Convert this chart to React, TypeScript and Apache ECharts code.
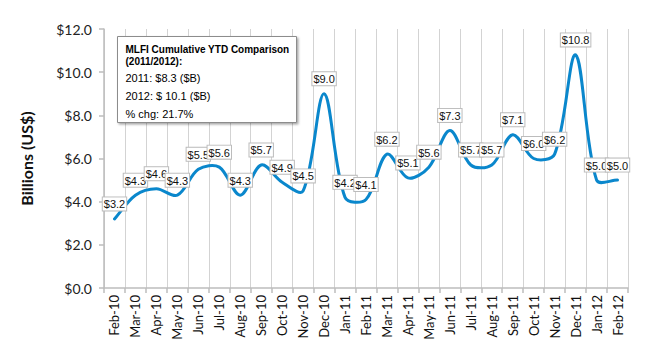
import React, { useEffect, useRef } from "react";
import * as echarts from "echarts";

const categories = [
  "Feb-10", "Mar-10", "Apr-10", "May-10", "Jun-10", "Jul-10", "Aug-10", "Sep-10", "Oct-10",
  "Nov-10", "Dec-10", "Jan-11", "Feb-11", "Mar-11", "Apr-11", "May-11", "Jun-11", "Jul-11",
  "Aug-11", "Sep-11", "Oct-11", "Nov-11", "Dec-11", "Jan-12", "Feb-12",
];
const values = [
  3.2, 4.3, 4.6, 4.3, 5.5, 5.6, 4.3, 5.7, 4.9, 4.5, 9.0, 4.2, 4.1, 6.2, 5.1, 5.6, 7.3, 5.7,
  5.7, 7.1, 6.0, 6.2, 10.8, 5.0, 5.0,
];
const yTicks = [0, 2, 4, 6, 8, 10, 12];
const boxTitle = ["MLFI Cumulative YTD Comparison", "(2011/2012):"];
const boxLines = ["2011: $8.3 ($B)", "2012: $ 10.1 ($B)", "% chg: 21.7%"];

// Excel-like smoothing: control points along neighbour chord, split by segment length
function smoothPath(pts: number[][], s: number): string {
  const n = pts.length;
  let d = `M${pts[0][0]},${pts[0][1]}`;
  const cps: number[][][] = [];
  for (let i = 0; i < n; i++) {
    const p = pts[i];
    const prev = pts[Math.max(0, i - 1)];
    const next = pts[Math.min(n - 1, i + 1)];
    const vx = next[0] - prev[0];
    const vy = next[1] - prev[1];
    const dPrev = Math.hypot(p[0] - prev[0], p[1] - prev[1]);
    const dNext = Math.hypot(next[0] - p[0], next[1] - p[1]);
    const tot = dPrev + dNext || 1;
    const rIn = dPrev / tot;
    const rOut = dNext / tot;
    cps.push([
      [p[0] - vx * s * rIn, p[1] - vy * s * rIn],
      [p[0] + vx * s * rOut, p[1] + vy * s * rOut],
    ]);
  }
  for (let i = 0; i < n - 1; i++) {
    const c1 = cps[i][1];
    const c2 = cps[i + 1][0];
    const p = pts[i + 1];
    d += ` C${c1[0]},${c1[1]} ${c2[0]},${c2[1]} ${p[0]},${p[1]}`;
  }
  return d;
}

export default function App() {
  const ref = useRef<HTMLDivElement>(null);
  useEffect(() => {
    if (!ref.current) return;
    const chart = echarts.init(ref.current, null, { renderer: "svg" });
    const axisFont = "Lato, 'Open Sans', sans-serif";
    const boxFont = "'Liberation Sans', Arial, sans-serif";
    const pairData = values.map((v, i) => [i, v]);
    chart.setOption({
      animation: false,
      backgroundColor: "#ffffff",
      grid: { left: 104, right: 22, top: 29, bottom: 62, containLabel: false },
      xAxis: {
        type: "category",
        data: categories,
        boundaryGap: true,
        axisLine: { show: true, lineStyle: { color: "#bdbdbd", width: 1.5 } },
        axisTick: { show: true, alignWithLabel: false, length: 5, lineStyle: { color: "#bdbdbd", width: 1.5 } },
        splitLine: { show: true, lineStyle: { color: "#d3d3d3", width: 1 } },
        axisLabel: {
          rotate: 90,
          interval: 0,
          margin: 7,
          color: "#111",
          fontSize: 13,
          fontFamily: axisFont,
        },
      },
      yAxis: {
        type: "value",
        min: 0,
        max: 12,
        interval: 2,
        name: "Billions (US$)",
        nameLocation: "middle",
        nameGap: 70,
        nameTextStyle: { fontSize: 16, fontWeight: "bold", color: "#111", fontFamily: axisFont },
        axisLine: { show: true, lineStyle: { color: "#bdbdbd", width: 1.5 } },
        axisTick: { show: true, length: 5, lineStyle: { color: "#bdbdbd", width: 1.5 } },
        splitLine: { show: false },
        axisLabel: {
          margin: 12,
          color: "#222",
          fontSize: 14,
          fontFamily: axisFont,
          formatter: (v: number) => (yTicks.includes(v) ? "$" + v.toFixed(1) : ""),
        },
      },
      series: [
        {
          type: "custom",
          z: 2,
          data: pairData,
          encode: { x: 0, y: 1 },
          renderItem: (params: any, api: any) => {
            if (params.dataIndex !== 0) return null;
            const pts = values.map((v, i) => api.coord([i, v]));
            return {
              type: "path",
              shape: { pathData: smoothPath(pts, 1 / 3) },
              style: { fill: "none", stroke: "#0a87cc", lineWidth: 3, lineCap: "round", lineJoin: "round" },
            };
          },
        },
        {
          type: "line",
          z: 5,
          data: values,
          symbol: "circle",
          symbolSize: 1,
          itemStyle: { color: "rgba(0,0,0,0)" },
          lineStyle: { opacity: 0 },
          label: {
            show: true,
            position: "top",
            distance: 8,
            formatter: (p: any) => "$" + Number(p.value).toFixed(1),
            fontSize: 11,
            lineHeight: 12,
            fontFamily: boxFont,
            color: "#111",
            backgroundColor: "#ffffff",
            borderColor: "#bcbcbc",
            borderWidth: 1,
            padding: [1, 1, 0, 1],
          },
        },
      ],
      graphic: [
        {
          type: "group",
          left: 117,
          top: 36,
          z: 100,
          children: [
            {
              type: "rect",
              z: 100,
              shape: { x: 0, y: 0, width: 179, height: 86 },
              style: {
                fill: "#ffffff",
                stroke: "#8c8c8c",
                lineWidth: 1,
                shadowBlur: 2,
                shadowOffsetX: 1.5,
                shadowOffsetY: 1.5,
                shadowColor: "rgba(0,0,0,0.35)",
              },
            },
            {
              type: "text",
              z: 101,
              x: 8,
              y: 7,
              style: {
                text: boxTitle.join("\n"),
                font: "bold 10px " + boxFont,
                lineHeight: 12,
                fill: "#000",
              },
            },
            ...boxLines.map((t, i) => ({
              type: "text",
              z: 101,
              x: 8,
              y: 36 + i * 18,
              style: { text: t, font: "11px " + boxFont, fill: "#000" },
            })),
          ],
        },
      ],
    });
    return () => chart.dispose();
  }, []);
  return <div ref={ref} style={{ width: 650, height: 350, margin: -8 }} />;
}
